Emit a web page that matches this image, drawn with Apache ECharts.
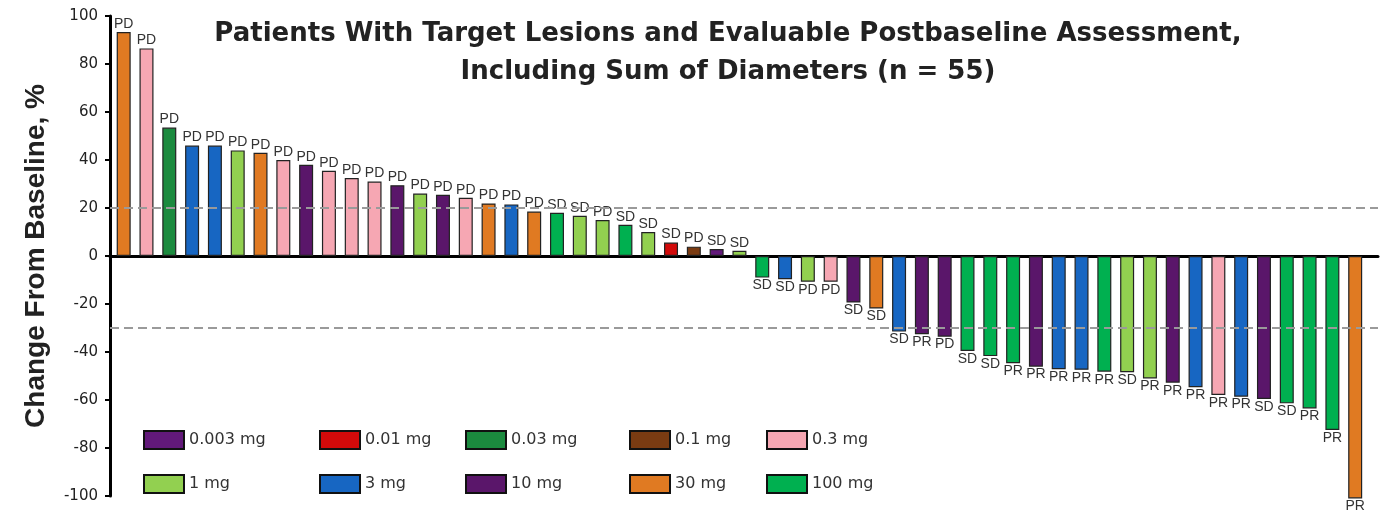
<!DOCTYPE html>
<html>
<head>
<meta charset="utf-8">
<script src="https://cdn.jsdelivr.net/npm/echarts@6/dist/echarts.min.js"></script>
<style>
  html, body { margin: 0; padding: 0; background: #fff; }
  #chart { width: 1388px; height: 519px; }
</style>
</head>
<body>
<div id="chart"></div>
<script>
// ---- Data ----
const doseLevels = ['0.003 mg', '0.01 mg', '0.03 mg', '0.1 mg', '0.3 mg', '1 mg', '3 mg', '10 mg', '30 mg', '100 mg'];

const changeFromBaseline = [
  93.3, 86.5, 53.5, 46, 46, 44, 43, 40, 38, 35.5,
  32.5, 31, 29.5, 26, 25.5, 24.3, 21.9, 21.5, 18.5, 18,
  16.8, 15, 13, 10, 5.6, 3.9, 2.9, 2.2, -9, -9.7,
  -10.7, -10.7, -19.4, -21.9, -31.5, -32.6, -33.6, -39.6, -41.7, -44.7,
  -46.1, -47.2, -47.4, -48.2, -48.4, -51, -52.8, -54.7, -57.9, -58.6,
  -59.6, -61.4, -63.5, -72.5, -101
];

const patientDose = [
  '30 mg', '0.3 mg', '0.03 mg', '3 mg', '3 mg', '1 mg', '30 mg', '0.3 mg', '10 mg', '0.3 mg',
  '0.3 mg', '0.3 mg', '10 mg', '1 mg', '10 mg', '0.3 mg', '30 mg', '3 mg', '30 mg', '100 mg',
  '1 mg', '1 mg', '100 mg', '1 mg', '0.01 mg', '0.1 mg', '0.003 mg', '1 mg', '100 mg', '3 mg',
  '1 mg', '0.3 mg', '10 mg', '30 mg', '3 mg', '10 mg', '10 mg', '100 mg', '100 mg', '100 mg',
  '10 mg', '3 mg', '3 mg', '100 mg', '1 mg', '1 mg', '10 mg', '3 mg', '0.3 mg', '3 mg',
  '10 mg', '100 mg', '100 mg', '100 mg', '30 mg'
];

const bestResponse = [
  'PD', 'PD', 'PD', 'PD', 'PD', 'PD', 'PD', 'PD', 'PD', 'PD',
  'PD', 'PD', 'PD', 'PD', 'PD', 'PD', 'PD', 'PD', 'PD', 'SD',
  'SD', 'PD', 'SD', 'SD', 'SD', 'PD', 'SD', 'SD', 'SD', 'SD',
  'PD', 'PD', 'SD', 'SD', 'SD', 'PR', 'PD', 'SD', 'SD', 'PR',
  'PR', 'PR', 'PR', 'PR', 'SD', 'PR', 'PR', 'PR', 'PR', 'PR',
  'SD', 'SD', 'PR', 'PR', 'PR'
];

const yTicks = [100, 80, 60, 40, 20, 0, -20, -40, -60, -80, -100];
const thresholds = [20, -30];

// ---- Styles ----
const doseColors = {
  '0.003 mg': '#62197a',
  '0.01 mg': '#d20a0a',
  '0.03 mg': '#1b8a3e',
  '0.1 mg': '#7a3b12',
  '0.3 mg': '#f6a7b3',
  '1 mg': '#92d050',
  '3 mg': '#1766c2',
  '10 mg': '#5a166a',
  '30 mg': '#e07a22',
  '100 mg': '#00b050'
};
const FONT = '"Liberation Sans", Arial, Helvetica, sans-serif';
const WIDE = '"DejaVu Sans", "Liberation Sans", Arial, sans-serif';

const series = doseLevels.map((dose, k) => {
  const data = [];
  changeFromBaseline.forEach((v, i) => {
    if (patientDose[i] !== dose) return;
    data.push({
      value: [i + 1, v],
      label: { position: v >= 0 ? 'top' : 'bottom' }
    });
  });
  const s = {
    name: dose,
    type: 'bar',
    data: data,
    barWidth: 14,
    barGap: '-100%',
    clip: false,
    itemStyle: { color: doseColors[dose], borderColor: '#222', borderWidth: 1.2 },
    label: {
      show: true,
      distance: 1,
      fontFamily: FONT,
      fontSize: 14,
      color: '#333',
      formatter: p => bestResponse[p.value[0] - 1]
    },
    emphasis: { disabled: true }
  };
  if (k === 0) {
    s.markLine = {
      silent: true,
      symbol: 'none',
      label: { show: false },
      lineStyle: { color: '#9a9a9a', type: [9, 5], width: 2 },
      data: thresholds.map(t => ({ yAxis: t }))
    };
  }
  return s;
});

// Legend in 5 columns of 2 rows
const legendCols = [143, 319, 465, 629, 766];
const legends = legendCols.map((left, c) => ({
  orient: 'vertical',
  left: left,
  top: 430,
  padding: 0,
  itemWidth: 40,
  itemHeight: 18,
  itemGap: 24,
  icon: 'rect',
  selectedMode: false,
  itemStyle: { borderColor: '#111', borderWidth: 2 },
  textStyle: { fontFamily: WIDE, fontSize: 16, color: '#333', padding: [0, 0, 0, 0] },
  data: [doseLevels[c], doseLevels[c + 5]]
}));

const chart = echarts.init(document.getElementById('chart'), null, { renderer: 'canvas' });
chart.setOption({
  animation: false,
  backgroundColor: '#fff',
  title: {
    text: 'Patients With Target Lesions and Evaluable Postbaseline Assessment,\nIncluding Sum of Diameters (n = 55)',
    left: 723,
    top: 10,
    textAlign: 'center',
    textStyle: { fontFamily: WIDE, fontSize: 26, fontWeight: 'bold', color: '#222', lineHeight: 38 }
  },
  legend: legends,
  grid: { left: 110, right: 10, top: 16, bottom: 23, containLabel: false },
  xAxis: {
    type: 'value',
    min: 0.4,
    max: 56,
    axisLine: { show: true, onZero: true, lineStyle: { color: '#000', width: 3 } },
    axisTick: { show: false },
    axisLabel: { show: false },
    splitLine: { show: false }
  },
  yAxis: {
    type: 'value',
    min: -100,
    max: 100,
    interval: 20,
    name: 'Change From Baseline, %',
    nameLocation: 'middle',
    nameRotate: 90,
    nameGap: 60,
    nameTextStyle: { fontFamily: FONT, fontSize: 28, fontWeight: 'bold', color: '#222' },
    axisLine: { show: true, lineStyle: { color: '#000', width: 3 } },
    axisTick: { show: true, inside: false, length: 5, lineStyle: { color: '#000', width: 2 } },
    axisLabel: { fontFamily: WIDE, fontSize: 15, color: '#222', margin: 12,
      formatter: v => (yTicks.indexOf(v) >= 0 ? String(v) : '') },
    splitLine: { show: false }
  },
  series: series
});
</script>
</body>
</html>
